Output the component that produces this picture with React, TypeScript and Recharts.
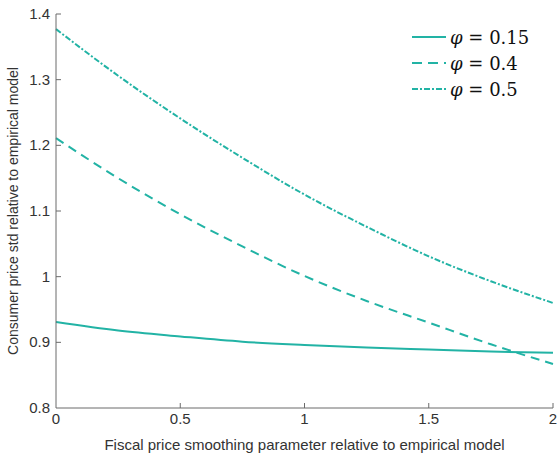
import { LineChart, Line, XAxis, YAxis } from "recharts";

const xValues = [0, 0.25, 0.5, 0.75, 1.0, 1.25, 1.5, 1.75, 2.0];
const phi015 = [0.931, 0.918, 0.909, 0.901, 0.896, 0.892, 0.889, 0.886, 0.884];
const phi04 = [1.211, 1.15, 1.095, 1.046, 1.001, 0.963, 0.93, 0.897, 0.867];
const phi05 = [1.377, 1.306, 1.241, 1.181, 1.125, 1.076, 1.031, 0.993, 0.96];
const xTicks = [0, 0.5, 1, 1.5, 2];
const yTicks = [0.8, 0.9, 1, 1.1, 1.2, 1.3, 1.4];

const data = xValues.map((x, i) => ({
  x,
  a: phi015[i],
  b: phi04[i],
  c: phi05[i],
}));

const TEAL = "#22b3a5";
const AXIS = "#6b6b6b";
const TEXT = "#333333";
const FONT = "'Liberation Sans', Arial, sans-serif";

const fmt = (v: number) => String(Number(v.toFixed(2)));

const XTick = (props: any) => {
  const { x, y, payload } = props;
  return (
    <g>
      {payload.value !== 0 && (
        <line x1={x} x2={x} y1={y - 6} y2={y - 11} stroke={AXIS} strokeWidth={1} />
      )}
      <text x={x} y={y} dy={10} textAnchor="middle" fill={TEXT} style={{ fontSize: 15, fontFamily: FONT }}>
        {fmt(payload.value)}
      </text>
    </g>
  );
};

const YTick = (props: any) => {
  const { x, y, payload } = props;
  return (
    <g>
      {payload.value !== 0.8 && (
        <line x1={x + 6} x2={x + 11} y1={y} y2={y} stroke={AXIS} strokeWidth={1} />
      )}
      <text x={x} y={y} dy={5} textAnchor="end" fill={TEXT} style={{ fontSize: 15, fontFamily: FONT }}>
        {fmt(payload.value)}
      </text>
    </g>
  );
};

const legendItems = [
  { label: "0.15", dash: undefined },
  { label: "0.4", dash: "10 6" },
  { label: "0.5", dash: "6 2 2 2" },
];

const LegendBox = () => (
  <div style={{ position: "absolute", left: 412, top: 24 }}>
    {legendItems.map((it) => (
      <div key={it.label} style={{ display: "flex", alignItems: "center", height: 26 }}>
        <svg width={34} height={10}>
          <line x1={0} x2={34} y1={5} y2={5} stroke={TEAL} strokeWidth={2} strokeDasharray={it.dash} />
        </svg>
        <span
          style={{
            marginLeft: 4,
            fontFamily: "'DejaVu Serif', 'Liberation Serif', serif",
            fontSize: 18,
            color: "#111",
          }}
        >
          <i>φ</i> = {it.label}
        </span>
      </div>
    ))}
  </div>
);

export default function App() {
  return (
    <div style={{ position: "absolute", left: 0, top: 0, width: 560, height: 461, background: "#fff" }}>
      <LineChart
        width={560}
        height={461}
        data={data}
        margin={{ top: 14, right: 7, left: 0, bottom: 0 }}
      >
        <XAxis
          dataKey="x"
          type="number"
          domain={[0, 2]}
          ticks={xTicks}
          height={53}
          stroke={AXIS}
          tickLine={false}
          tickSize={0}
          tickMargin={6}
          tick={<XTick />}
          label={{
            value: "Fiscal price smoothing parameter relative to empirical model",
            position: "insideBottom",
            offset: 11,
            fill: TEXT,
            style: { fontSize: 15, fontFamily: FONT },
          }}
        />
        <YAxis
          type="number"
          domain={[0.8, 1.4]}
          ticks={yTicks}
          width={56}
          stroke={AXIS}
          tickLine={false}
          tickSize={0}
          tickMargin={6}
          tick={<YTick />}
          label={{
            value: "Consumer price std relative to empirical model",
            angle: -90,
            position: "insideLeft",
            offset: 13,
            fill: TEXT,
            style: { textAnchor: "middle", fontSize: 14, fontFamily: FONT },
          }}
        />
        <Line type="monotone" dataKey="a" stroke={TEAL} strokeWidth={2} dot={false} isAnimationActive={false} />
        <Line type="monotone" dataKey="b" stroke={TEAL} strokeWidth={2} strokeDasharray="9 6" dot={false} isAnimationActive={false} />
        <Line type="monotone" dataKey="c" stroke={TEAL} strokeWidth={2} strokeDasharray="6 2 2 2" dot={false} isAnimationActive={false} />
      </LineChart>
      <LegendBox />
    </div>
  );
}
